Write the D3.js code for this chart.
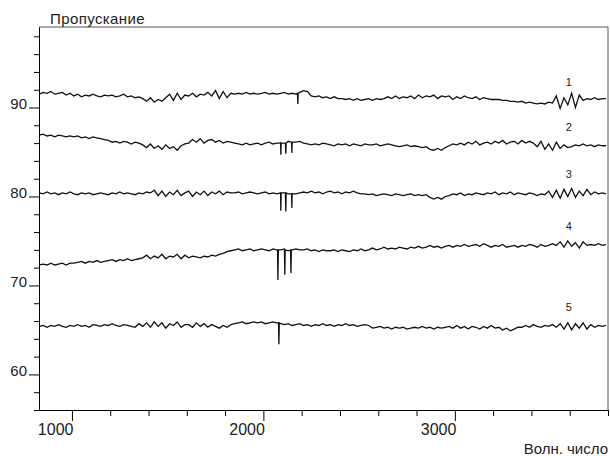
<!DOCTYPE html>
<html>
<head>
<meta charset="utf-8">
<script src="https://cdn.jsdelivr.net/npm/d3@7"></script>
<style>
  body { margin: 0; background: #fff; }
  svg text { font-family: Arial, "Liberation Sans", sans-serif; fill: #222; }
</style>
</head>
<body>
<figure id="ir" style="margin:0"></figure>
<script>
// sampling grid of the read-off values, cm-1 (830 ... 3790, every 20)
const wavenumbers = d3.range(830, 3800, 20);

// transmission, % (one value per grid point)
const spectrum1 = [
  91.5, 91.7, 91.6, 91.8, 91.5, 91.6, 91.7, 91.4, 91.6,
  91.3, 91.5, 91.2, 91.4, 91.3, 91.5, 91.3, 91.2, 91.4,
  91.3, 91.4, 91.2, 91.3, 91.5, 91.2, 91.3, 91.1, 91.2,
  91.0, 90.7, 91.1, 90.6, 90.9, 90.7, 91.1,
  91.5, 90.8, 91.6, 90.9, 91.4,
  91.3, 91.6, 91.2, 91.5, 91.4, 91.7, 91.3,
  91.9, 91.0, 91.8, 91.1, 91.6,
  91.5, 91.6, 91.5, 91.7, 91.5, 91.6, 91.5, 91.6, 91.7, 91.5, 91.6, 91.5, 91.6, 91.7, 91.5, 91.6, 91.5,
  91.7, 91.9, 91.8, 91.3, 91.2,
  91.3, 91.1, 91.2, 91.0, 91.2, 91.0,
  91.0, 90.9, 91.0, 90.8, 91.0, 90.8, 90.9, 91.0, 90.8, 91.0, 90.9, 91.0, 91.2, 91.0, 91.3, 91.0, 91.2, 91.1,
  91.3, 91.0, 91.4, 91.1, 91.3, 91.2, 91.4, 91.0, 91.3, 91.2,
  91.3, 90.9, 91.2, 91.0, 91.3, 91.1, 91.0, 91.2, 90.9, 91.1, 91.0, 90.9,
  90.9, 90.9, 90.8, 90.8, 90.7, 90.7, 90.6, 90.7, 90.5, 90.6, 90.5, 90.4, 90.5, 90.4, 90.6,
  90.5, 91.3, 89.9, 91.1, 90.3, 91.6, 90.0, 91.4, 90.8,
  91.0, 90.9, 91.1, 90.9, 91.0, 91.0
];
const spectrum2 = [
  86.9, 87.0, 86.8, 86.9, 86.7, 86.9, 86.8, 86.7, 86.8,
  86.7, 86.8, 86.6, 86.7, 86.5, 86.7, 86.6, 86.5, 86.4,
  86.3, 86.1, 86.2, 86.0, 86.2, 86.1, 85.9, 86.1, 86.0,
  85.8, 85.5, 85.9, 85.4, 85.7, 85.3, 85.8, 85.4, 85.6, 85.2, 85.7, 85.9,
  86.0, 86.4, 86.1, 86.5, 86.0, 86.3, 86.4, 86.1, 86.3, 86.0, 86.2, 86.1,
  86.0, 85.9, 85.8, 86.0, 85.8, 85.9, 86.0, 85.8, 86.0, 86.1, 85.9, 86.0,
  86.1, 86.0, 86.2, 86.0, 86.1, 86.2,
  86.0, 85.9, 85.8, 85.9, 85.8, 86.0, 85.9, 85.8, 85.7, 85.9,
  85.8, 85.9, 85.7, 85.9, 85.8, 85.7, 85.9, 85.8, 85.8, 85.9, 85.7, 85.8, 85.9, 85.8, 85.7, 85.6, 85.7, 85.8, 85.6, 85.7, 85.6, 85.5, 85.6,
  85.3, 85.2, 85.4, 85.2, 85.5,
  85.7, 85.9, 85.8, 86.0, 85.8, 86.1, 85.9, 86.2, 85.8, 86.0, 86.1, 85.9, 86.2, 86.0, 86.3, 85.9, 86.1, 86.2, 85.9, 86.3, 86.0, 86.2, 86.0,
  85.6, 86.2, 85.3, 85.9, 85.2, 86.1, 85.4, 85.8, 85.5,
  85.6, 85.8, 85.7, 85.9, 85.7, 85.8, 85.6, 85.8, 85.7, 85.7
];
const spectrum3 = [
  80.4, 80.3, 80.5, 80.3, 80.4, 80.2, 80.4, 80.3, 80.5, 80.3, 80.2, 80.4, 80.3, 80.4, 80.2,
  80.3, 80.4, 80.3, 80.2, 80.4, 80.3, 80.5, 80.3, 80.4, 80.3, 80.2, 80.4, 80.3, 80.5, 80.4,
  80.7, 80.1, 80.6, 80.0, 80.5, 80.2, 80.7, 80.1, 80.4, 80.6, 80.0, 80.5, 80.2, 80.6, 80.1, 80.5, 80.3, 80.6, 80.2, 80.5, 80.4,
  80.4, 80.5, 80.3, 80.4, 80.5, 80.4, 80.3, 80.4, 80.5, 80.3, 80.4, 80.3, 80.2, 80.4, 80.3, 80.4, 80.3, 80.4,
  80.5, 80.4, 80.6, 80.4, 80.5, 80.3, 80.5, 80.6, 80.4, 80.5, 80.3, 80.5, 80.4, 80.6, 80.4, 80.3,
  80.3, 80.2, 80.3, 80.1, 80.2, 80.3, 80.2, 80.1, 80.3, 80.2, 80.1, 80.2, 80.3, 80.1, 80.2, 80.1, 80.2,
  79.9, 79.7, 79.9, 79.7, 80.0,
  80.1, 80.3, 80.2, 80.4, 80.1, 80.3, 80.2, 80.4, 80.3, 80.2, 80.4, 80.3, 80.5, 80.2, 80.4, 80.3, 80.5, 80.2, 80.4, 80.3, 80.2, 80.4, 80.3, 80.1, 80.3, 80.2,
  80.6, 79.9, 80.7, 79.8, 80.8, 80.0, 80.9, 79.9, 80.6, 80.1, 80.8, 80.2, 80.5,
  80.3, 80.4, 80.3
];
const spectrum4 = [
  72.3, 72.4, 72.3, 72.5, 72.3, 72.4, 72.5, 72.3, 72.5,
  72.5, 72.6, 72.7, 72.5, 72.7, 72.6, 72.8, 72.6, 72.7,
  72.8, 72.9, 72.7, 72.9, 72.8, 73.0, 72.8, 72.9, 73.0,
  73.1, 73.4, 73.0, 73.3, 73.1, 73.5, 73.0, 73.3, 73.2, 73.5, 73.0, 73.4, 73.1, 73.3, 73.2, 73.1,
  73.3, 73.2, 73.4, 73.3,
  73.5, 73.6, 73.8, 73.9,
  74.0, 74.1, 73.9, 74.0, 74.1, 73.9, 74.0, 74.1, 74.0, 73.9, 74.1, 74.0,
  74.0, 74.1, 73.9, 74.0, 74.1, 74.0,
  74.0, 74.1, 73.9, 74.0, 73.8, 74.0, 73.9,
  73.9, 74.0, 73.8, 74.0, 73.9, 73.8, 74.0, 73.9, 74.1, 73.9, 74.0, 74.2, 74.0, 74.1, 74.3, 74.1,
  74.2, 74.1, 74.3, 74.2, 74.1, 74.3, 74.2, 74.4, 74.2, 74.3, 74.5, 74.3, 74.4, 74.2, 74.4, 74.5, 74.3, 74.5, 74.4, 74.6, 74.4, 74.5,
  74.6, 74.4, 74.7, 74.5, 74.3, 74.5, 74.4, 74.6, 74.3, 74.4, 74.5, 74.3, 74.5, 74.4, 74.6, 74.5, 74.3, 74.6, 74.4, 74.5, 74.7, 74.5,
  74.9, 74.3, 75.0, 74.4, 74.8, 74.2, 74.9, 74.5,
  74.6, 74.5, 74.7, 74.5, 74.6
];
const spectrum5 = [
  65.4, 65.5, 65.3, 65.5, 65.4, 65.6, 65.4, 65.3, 65.5, 65.4, 65.6, 65.4, 65.5,
  65.3, 65.6, 65.5, 65.4, 65.6, 65.5, 65.7, 65.5, 65.4, 65.6, 65.5, 65.4,
  65.3, 65.7, 65.4, 65.8, 65.3, 65.9, 65.4, 65.8, 65.2, 65.7, 65.5, 65.9, 65.3, 65.6,
  65.6, 65.3, 65.8, 65.4, 65.7, 65.3, 65.6, 65.4, 65.2, 65.5, 65.3, 65.6,
  65.7, 65.8, 65.9, 65.7, 65.8, 65.9, 65.8, 65.9, 65.7, 65.8, 65.9, 65.8,
  65.7, 65.6, 65.7, 65.5, 65.6, 65.7, 65.5, 65.6, 65.4, 65.6, 65.5, 65.7,
  65.5, 65.6, 65.4, 65.6, 65.5, 65.7, 65.5, 65.6, 65.4, 65.5, 65.6, 65.5,
  65.2, 65.3, 65.4, 65.2, 65.3, 65.1, 65.3, 65.2, 65.3, 65.1,
  65.2, 65.3, 65.2, 65.4, 65.2, 65.3, 65.1, 65.3, 65.2, 65.3,
  65.4, 65.2, 65.5, 65.2, 65.4, 65.1, 65.4, 65.3, 65.1, 65.4, 65.2, 65.5, 65.2, 65.3,
  65.0, 65.2, 64.9, 65.1, 65.3,
  65.3, 65.5, 65.3, 65.6, 65.4, 65.3, 65.5, 65.4, 65.6, 65.3,
  65.7, 65.1, 65.8, 65.0, 65.7, 65.2, 65.8, 65.1, 65.6, 65.3,
  65.5, 65.4, 65.5
];

// narrow absorption dips near 2100 cm-1: [wavenumber, transmission]
const dips1 = [[2178, 91.6], [2180, 90.4], [2182, 91.6]];
const dips2 = [[2089, 86.0], [2091, 84.7], [2093, 86.0], [2115, 86.0], [2117, 84.8], [2119, 86.0], [2147, 86.1], [2149, 84.9], [2151, 86.1]];
const dips3 = [[2089, 80.4], [2091, 78.4], [2093, 80.4], [2115, 80.4], [2117, 78.3], [2119, 80.4], [2147, 80.3], [2149, 78.7], [2151, 80.3]];
const dips4 = [[2074, 74.0], [2076, 70.6], [2078, 74.0], [2110, 74.0], [2112, 71.2], [2114, 74.0], [2142, 74.0], [2144, 71.4], [2146, 74.0]];
const dips5 = [[2079, 65.8], [2081, 63.4], [2083, 65.8]];

const seriesNames = ["1", "2", "3", "4", "5"];
const xMajorTicks = [1000, 2000, 3000];
const yMajorTicks = [60, 70, 80, 90];

const W = 610, H = 456;
const plotLeft = 39, plotRight = 608, plotTop = 27, plotBottom = 410;

const svg = d3.select("figure#ir")
  .append("svg")
  .attr("width", W)
  .attr("height", H);

const x = d3.scaleLinear().domain([828, 3800]).range([plotLeft, plotRight]);
const y = d3.scaleLinear().domain([56, 99.05]).range([plotBottom, plotTop]);

// frame (top and right)
svg.append("path")
  .attr("d", `M${plotLeft},${plotTop}H${plotRight}V${plotBottom}`)
  .attr("fill", "none")
  .attr("stroke", "#555")
  .attr("stroke-width", 1);

// X axis
const gx = svg.append("g")
  .attr("transform", `translate(0,${plotBottom})`)
  .call(d3.axisBottom(x)
    .tickValues(d3.range(1000, 3801, 200))
    .tickSizeOuter(0)
    .tickFormat(d => xMajorTicks.includes(d) ? d : ""));
gx.select(".domain").attr("stroke", "#000");
gx.selectAll(".tick line")
  .attr("stroke", "#000")
  .attr("y2", d => xMajorTicks.includes(d) ? 11 : 6);
gx.selectAll(".tick text")
  .attr("text-anchor", "end")
  .attr("x", 1)
  .attr("y", 25)
  .attr("dy", null)
  .style("font-size", "16px")
  .style("fill", "#222");

// Y axis
const gy = svg.append("g")
  .attr("transform", `translate(${plotLeft},0)`)
  .call(d3.axisLeft(y)
    .tickValues(d3.range(56, 99, 2))
    .tickSizeOuter(0)
    .tickFormat(d => yMajorTicks.includes(d) ? d : ""));
gy.select(".domain").attr("stroke", "#000");
gy.selectAll(".tick line")
  .attr("stroke", "#000")
  .attr("x2", d => yMajorTicks.includes(d) ? -10 : -5);
gy.selectAll(".tick text")
  .attr("x", -12)
  .attr("y", 1)
  .attr("dy", null)
  .style("font-size", "15px")
  .style("fill", "#222");

// titles
svg.append("text")
  .attr("x", 50)
  .attr("y", 24)
  .style("font-size", "15px")
  .style("letter-spacing", "0.4px")
  .text("Пропускание");

svg.append("text")
  .attr("x", 608)
  .attr("y", 454)
  .attr("text-anchor", "end")
  .style("font-size", "15px")
  .text("Волн. число");

// spectra
const spectra = [spectrum1, spectrum2, spectrum3, spectrum4, spectrum5];
const dips = [dips1, dips2, dips3, dips4, dips5];

const line = d3.line()
  .x(d => x(d[0]))
  .y(d => y(d[1]));

spectra.forEach((vals, k) => {
  const pts = wavenumbers.map((w, i) => [w, vals[i]])
    .concat(dips[k])
    .sort((a, b) => a[0] - b[0]);

  svg.append("path")
    .datum(pts)
    .attr("fill", "none")
    .attr("stroke", "#111")
    .attr("stroke-width", 1.3)
    .attr("stroke-linejoin", "miter")
    .attr("d", line);

  // curve number above the right-hand end
  const near = vals.slice(130, 147);
  svg.append("text")
    .attr("x", x(3595))
    .attr("y", y(d3.mean(near)) - 15)
    .attr("text-anchor", "middle")
    .style("font-size", "11px")
    .text(seriesNames[k]);
});
</script>
</body>
</html>
